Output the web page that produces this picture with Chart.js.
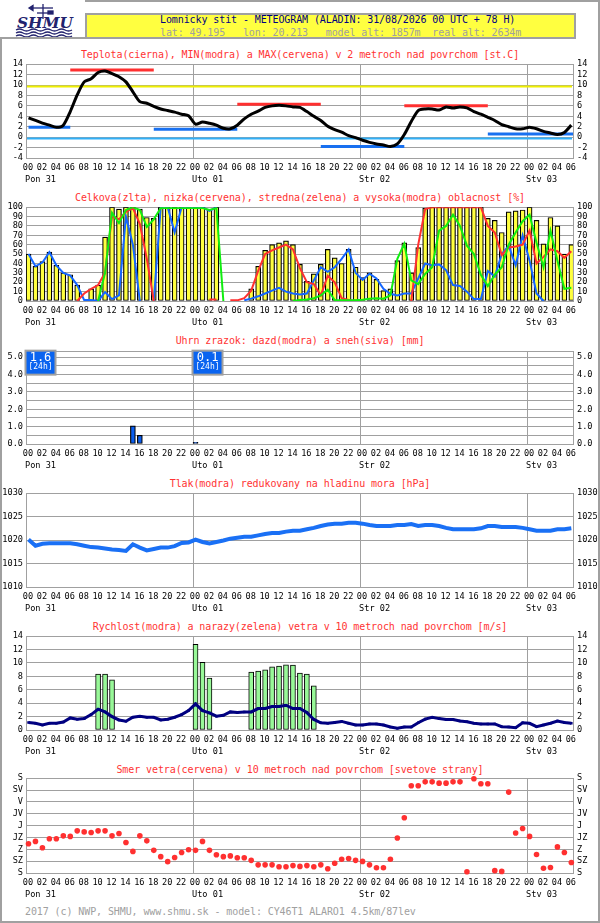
<!DOCTYPE html>
<html><head><meta charset="utf-8">
<script src="https://cdn.jsdelivr.net/npm/chart.js@4.4.1/dist/chart.umd.min.js"></script>
<style>
html,body{margin:0;padding:0;background:#fff;}
#page{position:relative;width:600px;height:923px;overflow:hidden;background:#fff;font-family:'DejaVu Sans Mono',monospace;}
.frame{position:absolute;left:0;top:0;width:600px;height:923px;box-sizing:border-box;border:2px solid #a0a0a0;}
.t{position:absolute;left:0;width:600px;text-align:center;font-size:10px;line-height:12px;color:#ff3333;white-space:pre;letter-spacing:-0.1px;}
.hdr{position:absolute;left:85px;top:13px;width:491px;height:26px;box-sizing:border-box;background:#ffff40;border:2px solid #a0a0a0;}
.h1{position:absolute;left:160px;top:14px;font-size:10px;line-height:12px;color:#000080;white-space:pre;letter-spacing:-0.1px;}
.h2{position:absolute;left:160px;top:27px;font-size:10px;line-height:12px;color:#a0a0a0;white-space:pre;letter-spacing:-0.1px;}
.foot{position:absolute;left:25px;top:906px;font-size:10px;line-height:12px;color:#a0a0a0;white-space:pre;letter-spacing:-0.1px;}
.logo{position:absolute;left:0;top:0;width:85px;height:39px;background:#fff;box-sizing:border-box;border-bottom:2px solid #a0a0a0;}
canvas{position:absolute;left:0;}
</style></head>
<body><div id="page">
<div class="frame"></div>
<div class="logo"><svg width="85" height="37" style="position:absolute;left:0;top:0">
<g stroke="#22226e" fill="none" stroke-width="1.3">
<line x1="43" y1="4" x2="43" y2="19"/>
<line x1="31" y1="8" x2="53" y2="8"/>
<polygon points="29,8 33,5.5 33,10.5" fill="#22226e"/>
<rect x="48" y="11" width="5" height="3" fill="#22226e"/>
<line x1="37" y1="13" x2="49" y2="13"/>
<path d="M16 30 q3.5 -2 7 0 t7 0 t7 0 t7 0 t7 0 t7 0 t7 0 t7 0"/>
<path d="M16 33 q3.5 -2 7 0 t7 0 t7 0 t7 0 t7 0 t7 0 t7 0 t7 0"/>
<path d="M16 36 q3.5 -2 7 0 t7 0 t7 0 t7 0 t7 0 t7 0 t7 0 t7 0"/>
</g>
<text x="17" y="28" font-family="DejaVu Serif" font-weight="bold" font-style="italic" font-size="15" fill="#22226e" textLength="56" lengthAdjust="spacingAndGlyphs">SHMU</text>
</svg></div>
<div class="hdr"></div>
<div class="h1">Lomnicky stit - METEOGRAM (ALADIN: 31/08/2026 00 UTC + 78 H)</div>
<div class="h2">lat: 49.195   lon: 20.213   model_alt: 1857m  real_alt: 2634m</div>
<div class="t" style="top:49px">Teplota(cierna), MIN(modra) a MAX(cervena) v 2 metroch nad povrchom [st.C]</div>
<div class="t" style="top:192px">Celkova(zlta), nizka(cervena), stredna(zelena) a vysoka(modra) oblacnost [%]</div>
<div class="t" style="top:335px">Uhrn zrazok: dazd(modra) a sneh(siva) [mm]</div>
<div class="t" style="top:478px">Tlak(modra) redukovany na hladinu mora [hPa]</div>
<div class="t" style="top:621px">Rychlost(modra) a narazy(zelena) vetra v 10 metroch nad povrchom [m/s]</div>
<div class="t" style="top:764px">Smer vetra(cervena) v 10 metroch nad povrchom [svetove strany]</div>
<div class="foot">2017 (c) NWP, SHMU, www.shmu.sk - model: CY46T1 ALARO1 4.5km/87lev</div>
</div>
<script>
// ---------- data ----------
const hours = Array.from({length:79},(_,i)=>i);
const hourTicks = Array.from({length:40},(_,i)=>i*2);
const dayHours = [0,24,48,72];
const dayNames = ['Pon 31','Uto 01','Str 02','Stv 03'];

const temperature = [3.7,3.2,2.7,2.3,1.9,2.3,4.9,8.1,10.6,11.2,
 12.4,12.7,12.2,11.6,10.6,8.7,6.8,6.5,5.9,5.4,
 5.1,4.8,4.4,4.1,2.5,2.9,2.65,2.3,1.7,1.6,
 2.3,3.5,4.4,5.0,5.7,6.0,6.1,6.0,5.8,5.7,
 4.9,4.0,3.2,2.1,1.45,0.95,0.3,-0.1,-0.6,-1.0,
 -1.3,-1.5,-1.8,-1.3,0.5,3.0,5.1,5.4,5.4,5.2,
 5.8,5.6,5.8,5.6,4.9,4.4,3.8,3.2,2.4,2.0,
 1.6,1.6,1.9,1.6,1.1,0.8,0.5,0.9,2.3];
const maxStart=[6,30,54], maxEnd=[18,42,66], maxVal=[12.9,6.3,6.0];
const minStart=[0,18,42,66], minEnd=[6,30,54,78.6], minVal=[1.9,1.5,-1.8,0.6];
const tempRefLines=[10,0];
const tempTicks=[-4,-2,0,2,4,6,8,10,12,14];

const cloudTotal=[50,37,42,52,38,30,28,17,null,13,
 17,68,100,98,100,100,98,89,88,100,
 100,100,100,100,100,100,97,100,null,null,
 null,null,13,37,54,60,62,64,60,39,
 21,29,39,55,46,40,55,36,25,30,
 23,11,13,43,62,30,57,99,100,100,
 100,100,100,100,100,100,88,86,73,95,
 96,97,100,86,61,89,80,50,60];
const cloudLow=[null,null,null,null,null,null,null,0,8,13,
 17,30,90,87,95,99,82,45,0,null,
 null,null,null,null,null,null,1.5,1.5,null,0.7,
 0.7,3,11,32,50,54,57,60,55,35,
 20,18,6,27,20,3,1,0,null,null,
 null,null,null,null,null,0,60,98,100,100,
 100,100,100,100,100,100,80,73,49,57,
 58,60,75,40,47,55,53,46,53];
const cloudMid=[null,null,null,null,null,null,null,null,null,null,
 0,30,94,83,97,100,97,79,87,99,
 99,99,99,99,99,99,97,99,0,null,
 null,null,null,null,null,null,null,null,0,1,
 1.5,3,6,12,1,0.7,0.7,0.7,1.4,2.5,
 3,2.5,6,45,61,22,18,29,36,75,
 80,92,80,59,50,28,16,28,36,60,
 73,85,92,62,36,75,43,13,14];
const cloudHigh=[50,37,41,52,38,30,27,17,1,1,
 0,9.5,2,6,90,60,0,null,0,100,
 100,73,100,100,100,100,96,100,null,null,
 null,0.7,2.5,5,8,11,14,10,8,7,
 8,22,36,31,36,45,55,30,22.5,29,
 24,13,7.7,6,8,8,24,40,38,39,
 33,17,16,10,2,2,32,26,50,59,
 38,70,43,8,0,null,null,null,null];
const cloudTicks=[0,10,20,30,40,50,60,70,80,90,100];

const precipHours=[15,16,24];
const precipVals=[1.05,0.5,0.1];
const daySumHours=[0,24];
const daySums=[1.6,0.1];
const precipTicks=[0,0.5,1,1.5,2,2.5,3,3.5,4,4.5,5,5.35];

const pressure=[1020.1,1018.8,1019.2,1019.3,1019.3,1019.3,1019.3,1019.1,1018.8,1018.5,
 1018.4,1018.2,1018.0,1017.9,1017.7,1019.1,1018.4,1017.8,1018.1,1018.4,
 1018.4,1018.7,1019.4,1019.5,1020.1,1019.6,1019.3,1019.6,1019.9,1020.3,
 1020.5,1020.7,1020.7,1021.0,1021.3,1021.5,1021.5,1021.8,1022.0,1022.0,
 1022.3,1022.6,1023.0,1023.3,1023.5,1023.5,1023.7,1023.7,1023.5,1023.2,
 1023.0,1023.0,1023.0,1023.2,1023.2,1023.4,1023.0,1023.2,1023.2,1023.0,
 1022.6,1022.3,1022.3,1022.3,1022.3,1022.5,1023.0,1023.0,1022.8,1022.8,
 1022.8,1022.6,1022.3,1022.0,1022.0,1022.0,1022.3,1022.3,1022.5];
const pressureTicks=[1010,1015,1020,1025,1030];

const windSpeed=[1.13,1.0,0.75,1.0,1.0,1.2,1.8,1.6,1.7,2.3,
 3.1,2.7,2.0,1.5,1.3,1.9,2.06,1.9,1.9,1.5,
 1.6,1.9,2.3,2.9,3.9,2.9,2.55,2.06,2.2,2.7,
 2.6,2.7,2.7,3.2,3.2,3.5,3.5,3.7,3.2,3.2,
 2.6,1.57,1.08,1.0,1.13,1.28,1.0,0.74,0.74,0.9,
 0.9,0.74,0.44,0.25,0.44,0.44,1.08,1.62,1.9,1.7,
 1.57,1.57,1.33,1.23,1.0,0.9,0.9,0.9,0.5,0.44,
 0.34,1.08,1.0,0.5,0.74,1.0,1.33,1.13,1.0];
const gustHours=[10,11,12,24,25,26,32,33,34,35,36,37,38,39,40,41];
const gustVals=[8.35,8.35,7.47,12.77,10.1,7.76,8.64,8.79,8.99,9.43,9.53,9.72,9.67,8.5,8.35,6.58];
const windTicks=[0,2,4,6,8,10,12,14];

const windDir=[249,240,264,230,230,219,221,200,204,206,
 200,200,219,210,244,278,219,238,274,298,
 317,301,282,272,274,240,274,291,298,295,
 302,302,312,329,329,329,336,336,332,335,
 332,336,329,344,323,308,305,312,316,329,
 340,340,308,227,150,29,29,14,14,19,
 19,14,14,355,2.5,21,21,351,354,53,
 208,191,221,290,342,339,261,282,320];
const dirTicks=[0,45,90,135,180,225,270,315,360];
const dirLabels=['S','SV','V','JV','J','JZ','Z','SZ','S'];

// ---------- styling / layout ----------
const GRID='#a0a0a0';
const FONT={family:"'DejaVu Sans Mono', monospace", size:8.6};
const X_MAX=78.6;      // right frame of every panel (hours)
const SHIFT=0.36;      // marks sit just right of the hour tick
const PAD_TOP=8, XH=32;

Chart.defaults.animation=false;
Chart.defaults.plugins.legend.display=false;
Chart.defaults.plugins.tooltip.enabled=false;
Chart.defaults.font.family=FONT.family;

const dayLabelPlugin={id:'dayLabels',afterDraw(chart){
  const {ctx,chartArea,scales}=chart; const x=scales.x;
  ctx.save(); ctx.font="8.6px 'DejaVu Sans Mono', monospace"; ctx.fillStyle='#000';
  ctx.textAlign='left'; ctx.textBaseline='middle';
  dayHours.forEach((h,i)=>ctx.fillText(dayNames[i],x.getPixelForValue(h)-1,chartArea.bottom+21.5));
  ctx.restore();
}};
Chart.register(dayLabelPlugin);

function xAxis(){
  return {type:'linear',min:0,max:X_MAX,offset:false,
    afterBuildTicks:s=>{s.ticks=hourTicks.map(v=>({value:v}));},
    afterFit:s=>{s.height=XH;},
    grid:{offset:false,drawTicks:false,lineWidth:1,
      color:c=>(c.tick&&c.tick.value>0&&c.tick.value%24===0)?GRID:'rgba(0,0,0,0)'},
    border:{display:true,color:GRID,width:1},
    ticks:{autoSkip:false,maxRotation:0,minRotation:0,padding:5,labelOffset:2,color:'#000',font:FONT,
      callback:v=>String(v%24).padStart(2,'0')}
  };
}
function yAxes(min,max,ticks,fmt,reverse){
  const mk=(pos)=>({type:'linear',min,max,reverse:!!reverse,position:pos,
    afterBuildTicks:s=>{s.ticks=ticks.map(v=>({value:v}));},
    afterFit:s=>{s.width=pos==='left'?26:27;},
    grid:{drawTicks:false,lineWidth:1,color:pos==='left'?GRID:'rgba(0,0,0,0)'},
    border:{display:true,color:GRID,width:1},
    ticks:{autoSkip:false,color:'#000',font:FONT,padding:pos==='left'?3:4,callback:fmt}});
  return {y:mk('left'),y2:mk('right')};
}
function baseOpts(scales){
  return {responsive:false,animation:false,
    layout:{autoPadding:false,padding:{top:PAD_TOP,left:0,right:0,bottom:0}},
    plugins:{legend:{display:false},tooltip:{enabled:false}},
    scales};
}
const page=document.getElementById('page');
function makeCanvas(top,bottom){
  const c=document.createElement('canvas');
  const h=(bottom-top)+PAD_TOP+XH;
  c.width=600; c.height=h;
  c.style.top=(top-PAD_TOP)+'px'; c.style.width='600px'; c.style.height=h+'px';
  page.appendChild(c);
  return c;
}
const pts=(arr)=>hours.map((h,i)=>({x:h+SHIFT,y:arr[i]}));
const seg=(s,e,v)=>[{x:s+SHIFT,y:v},{x:Math.min(e+SHIFT,X_MAX),y:v}];

// ---------- 1. temperature ----------
const refLinePlugin={id:'refLines',beforeDatasetsDraw(chart){
  const {ctx,chartArea,scales}=chart; const y=scales.y;
  const cols=['#f0f000','#30b0f8'];
  ctx.save();
  tempRefLines.forEach((v,i)=>{const py=Math.round(y.getPixelForValue(v))+1.5;
    ctx.strokeStyle=cols[i]; ctx.lineWidth=2; ctx.beginPath();
    ctx.moveTo(chartArea.left+1,py); ctx.lineTo(chartArea.right-1,py); ctx.stroke();});
  ctx.restore();
}};
new Chart(makeCanvas(63,158),{type:'line',
  data:{datasets:[
    ...maxStart.map((s,i)=>({data:seg(s,maxEnd[i],maxVal[i]),borderColor:'#ff3030',borderWidth:3,pointRadius:0,order:3})),
    ...minStart.map((s,i)=>({data:seg(s,minEnd[i],minVal[i]),borderColor:'#1870f0',borderWidth:3,pointRadius:0,order:2})),
    {data:pts(temperature),borderColor:'#000',borderWidth:3,pointRadius:0,tension:0.25,order:1}
  ]},
  options:baseOpts({x:xAxis(),...yAxes(-4,14,tempTicks,v=>String(v))}),
  plugins:[refLinePlugin]});

// ---------- 2. clouds ----------
const lineDs=(arr,col,ord)=>({type:'line',data:pts(arr),borderColor:col,borderWidth:2,pointRadius:0,spanGaps:false,order:ord});
new Chart(makeCanvas(206,301),{type:'bar',
  data:{datasets:[
    {type:'bar',data:pts(cloudTotal),backgroundColor:'#ffff40',borderColor:'#000',borderWidth:1.2,borderSkipped:false,barThickness:5,grouped:false,order:10},
    lineDs(cloudHigh,'#1466ff',4),
    lineDs(cloudLow,'#ff3030',3),
    lineDs(cloudMid,'#10ee10',2)
  ]},
  options:baseOpts({x:xAxis(),...yAxes(0,100,cloudTicks,v=>String(v))})});

// ---------- 3. precipitation ----------
const daySumPlugin={id:'daySums',afterDatasetsDraw(chart){
  const {ctx,chartArea,scales}=chart; const x=scales.x;
  ctx.save();
  daySumHours.forEach((h,i)=>{
    const x0=x.getPixelForValue(h)-0.5, y0=chartArea.top-0.5, w=30, hh=24;
    ctx.fillStyle='#0a64f0'; ctx.fillRect(x0,y0,w,hh);
    ctx.strokeStyle='#a0a0a0'; ctx.lineWidth=2; ctx.strokeRect(x0,y0,w,hh);
    ctx.fillStyle='#fff'; ctx.textAlign='center'; ctx.textBaseline='middle';
    ctx.font="12px 'DejaVu Sans Mono', monospace"; ctx.fillText(daySums[i].toFixed(1),x0+w/2,y0+7.5);
    ctx.font="8px 'DejaVu Sans Mono', monospace"; ctx.fillText('[24h]',x0+w/2,y0+16.5);
  });
  ctx.restore();
}};
new Chart(makeCanvas(350,444),{type:'bar',
  data:{datasets:[
    {type:'bar',data:precipHours.map((h,i)=>({x:h+SHIFT,y:precipVals[i]})),backgroundColor:'#0a5ef0',borderColor:'#000',borderWidth:1.2,borderSkipped:false,barThickness:5,grouped:false}
  ]},
  options:baseOpts({x:xAxis(),...yAxes(0,5.35,precipTicks,v=>Number.isInteger(v)?v.toFixed(1):'')}),
  plugins:[daySumPlugin]});

// ---------- 4. pressure ----------
new Chart(makeCanvas(492,587),{type:'line',
  data:{datasets:[{data:pts(pressure),borderColor:'#1a70f5',borderWidth:4,pointRadius:0,tension:0}]},
  options:baseOpts({x:xAxis(),...yAxes(1010,1030,pressureTicks,v=>String(v))})});

// ---------- 5. wind speed & gusts ----------
new Chart(makeCanvas(635,730),{type:'bar',
  data:{datasets:[
    {type:'bar',data:gustHours.map((h,i)=>({x:h+SHIFT,y:gustVals[i]})),backgroundColor:'#98f898',borderColor:'#000',borderWidth:1,borderSkipped:false,barThickness:5,grouped:false,order:10},
    {type:'line',data:pts(windSpeed),borderColor:'#000080',borderWidth:3,pointRadius:1.8,pointStyle:'rect',pointBackgroundColor:'#000080',pointBorderWidth:0,tension:0,order:1}
  ]},
  options:baseOpts({x:xAxis(),...yAxes(0,14,windTicks,v=>String(v))})});

// ---------- 6. wind direction ----------
new Chart(makeCanvas(777,873),{type:'scatter',
  data:{datasets:[{data:pts(windDir),showLine:false,pointRadius:2.8,pointBackgroundColor:'#ff3030',pointBorderWidth:0,clip:false}]},
  options:baseOpts({x:xAxis(),...yAxes(0,360,dirTicks,v=>dirLabels[Math.round(v/45)],true)})});
</script>
</body></html>
